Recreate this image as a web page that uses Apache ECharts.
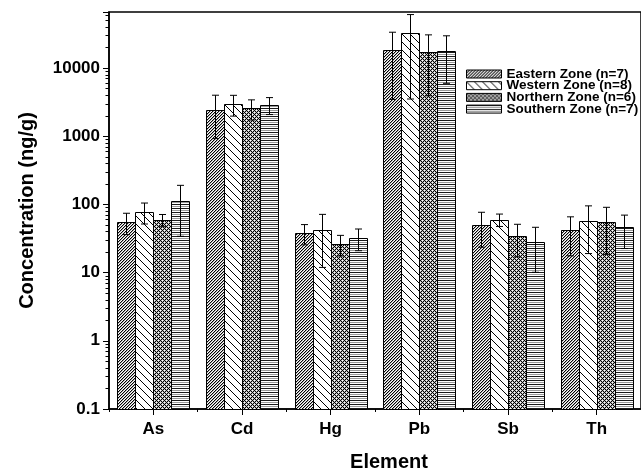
<!DOCTYPE html>
<html><head><meta charset="utf-8">
<script src="https://cdn.jsdelivr.net/npm/echarts@6/dist/echarts.min.js"></script>
<style>html,body{margin:0;padding:0;background:#fff;overflow:hidden}#c{width:641px;height:471px}</style>
</head><body><div id="c"></div>
<script>
var categories = ['As', 'Cd', 'Hg', 'Pb', 'Sb', 'Th'];
var zoneNames = ['Eastern Zone (n=7)', 'Western Zone (n=8)', 'Northern Zone (n=6)', 'Southern Zone (n=7)'];
var eastern  = [55, 2450, 38, 18400, 50, 41.6];
var eastErr  = [19, 1530, 12.5, 14950, 26.5, 24];
var western  = [78, 2965, 41.6, 32000, 59.7, 57];
var westErr  = [26.5, 1000, 29.7, 28500, 12.3, 38];
var northern = [59, 2560, 26.3, 17200, 34, 54.5];
var northErr = [12, 840, 8.8, 13300, 17, 36];
var southern = [112, 2870, 32.2, 17750, 28.1, 46];
var southErr = [78, 800, 11.3, 11800, 18, 23.5];
var yTickLabels = ['0.1', '1', '10', '100', '1000', '10000'];
var yMin = 0.1, yMax = 66000;

var FONT = '"Liberation Sans", Arial, Helvetica, sans-serif';

function mk(w, h, draw) {
  var c = document.createElement('canvas'); c.width = w; c.height = h;
  var g = c.getContext('2d'); g.fillStyle = '#fff'; g.fillRect(0, 0, w, h);
  draw(g); return c;
}
var patEast = mk(3, 3, function (g) {
  g.fillStyle = '#000';
  for (var x = 0; x < 3; x++) { var y = (2 - x + 3) % 3; g.fillRect(x, y, 1, 1); }
  g.fillStyle = '#aaa';
  for (var x2 = 0; x2 < 3; x2++) { var y2 = (3 - x2 + 3) % 3; g.fillRect(x2, y2, 1, 1); }
});
var patWest = mk(8, 8, function (g) {
  g.strokeStyle = '#000'; g.lineWidth = 1;
  g.beginPath(); g.moveTo(-1, -1); g.lineTo(9, 9); g.stroke();
  g.beginPath(); g.moveTo(7, -1); g.lineTo(9, 1); g.stroke();
  g.beginPath(); g.moveTo(-1, 7); g.lineTo(1, 9); g.stroke();
});
var patNorth = mk(4, 4, function (g) {
  for (var x = 0; x < 4; x++) for (var y = 0; y < 4; y++) {
    if ((x + y) % 4 === 0 || (x - y + 4) % 4 === 0) { g.fillStyle = '#000'; g.fillRect(x, y, 1, 1); }
    else if ((x + y) % 2 === 1) { g.fillStyle = '#bbb'; g.fillRect(x, y, 1, 1); }
  }
});
var patSouth = mk(4, 4, function (g) {
  g.fillStyle = '#1a1a1a'; g.fillRect(0, 0, 4, 1);
  g.fillStyle = '#999'; g.fillRect(0, 2, 4, 1);
});
var patterns = [patEast, patWest, patNorth, patSouth];
var means = [eastern, western, northern, southern];
var errs = [eastErr, westErr, northErr, southErr];

function isPow10(v) { var l = Math.log10(v); return Math.abs(l - Math.round(l)) < 1e-6; }

var minorVals = [];
[0.1, 1, 10, 100, 1000, 10000].forEach(function (d) {
  for (var k = 2; k <= 9; k++) { var v = d * k; if (v <= yMax) minorVals.push(v); }
});

function slotX(api, i, z) {
  var c = api.coord([i, yMin]);
  var bw = api.size([1, 0])[0] * 0.81 / 4;
  return { left: c[0] - 2 * bw + z * bw, bw: bw, base: c[1] };
}

var series = [];
zoneNames.forEach(function (nm, z) {
  var pat = { image: patterns[z], repeat: 'repeat' };
  series.push({
    name: nm, type: 'custom', xAxisIndex: 0, yAxisIndex: 0, z: 2,
    data: means[z].map(function (m, i) { return [i, m]; }),
    encode: { x: 0, y: 1 },
    itemStyle: { color: pat, borderColor: '#000', borderWidth: 1 },
    renderItem: function (params, api) {
      var i = api.value(0);
      var s = slotX(api, i, z);
      var top = api.coord([i, api.value(1)]);
      var x0 = Math.round(s.left) + 0.5;
      var x1 = Math.round(s.left + s.bw) + 0.5;
      return { type: 'rect',
        shape: { x: x0, y: Math.round(top[1]) + 0.5, width: x1 - x0, height: Math.round(s.base) - Math.round(top[1]) },
        style: { fill: pat, stroke: '#000', lineWidth: 1 } };
    }
  });
});
zoneNames.forEach(function (nm, z) {
  series.push({
    type: 'custom', xAxisIndex: 0, yAxisIndex: 0, z: 5, silent: true,
    data: means[z].map(function (m, i) { return [i, m - errs[z][i], m + errs[z][i]]; }),
    encode: { x: 0, y: [1, 2] },
    renderItem: function (params, api) {
      var i = api.value(0);
      var s = slotX(api, i, z);
      var lo = api.coord([i, api.value(1)]);
      var hi = api.coord([i, api.value(2)]);
      var x = Math.round(s.left + s.bw / 2) + 0.5;
      var c = 3.5;
      var st = { stroke: '#000', lineWidth: 1, fill: null };
      return { type: 'group', children: [
        { type: 'line', shape: { x1: x, y1: lo[1], x2: x, y2: hi[1] }, style: st },
        { type: 'line', shape: { x1: x - c, y1: lo[1], x2: x + c, y2: lo[1] }, style: st },
        { type: 'line', shape: { x1: x - c, y1: hi[1], x2: x + c, y2: hi[1] }, style: st }
      ]};
    }
  });
});
series.push({
  type: 'custom', xAxisIndex: 1, yAxisIndex: 0, z: 6, silent: true, clip: false,
  data: minorVals.map(function (v) { return [0, v]; }),
  renderItem: function (params, api) {
    var p = api.coord([0, api.value(1)]);
    var y = Math.round(p[1]) + 0.5;
    return { type: 'line', shape: { x1: p[0] - 3.5, y1: y, x2: p[0], y2: y },
      style: { stroke: '#000', lineWidth: 1 } };
  }
});

var chart = echarts.init(document.getElementById('c'), null, { renderer: 'canvas' });
chart.setOption({
  animation: false,
  backgroundColor: '#fff',
  textStyle: { fontFamily: FONT },
  grid: { left: 109, top: 12, right: 0, bottom: 62, show: true, borderColor: '#000', borderWidth: 1.5,
          containLabel: false, outerBoundsMode: 'none' },
  legend: {
    data: zoneNames, orient: 'vertical', left: 461, top: 62,
    icon: 'rect', itemWidth: 35, itemHeight: 8, itemGap: -2.3,
    selectedMode: false,
    textStyle: { fontFamily: FONT, fontWeight: 'bold', fontSize: 13.5, color: '#000' },
    itemStyle: { borderColor: '#000', borderWidth: 1 }
  },
  xAxis: [{
    type: 'category', data: categories,
    name: 'Element', nameLocation: 'middle', nameGap: 43,
    nameTextStyle: { fontFamily: FONT, fontWeight: 'bold', fontSize: 20, color: '#000', padding: [0, 0, 0, 28] },
    axisLine: { lineStyle: { color: '#000', width: 1.5 } },
    axisTick: { show: true, alignWithLabel: true, length: 6, lineStyle: { color: '#000', width: 1 } },
    axisLabel: { fontFamily: FONT, fontWeight: 'bold', fontSize: 17, color: '#000', margin: 12 },
    splitLine: { show: false }
  }, {
    type: 'value', min: 0, max: 1, show: false
  }, {
    type: 'category', data: categories, position: 'bottom',
    axisLine: { show: false },
    axisTick: { show: true, alignWithLabel: false, length: 3, lineStyle: { color: '#000', width: 1 } },
    axisLabel: { show: false },
    splitLine: { show: false }
  }],
  yAxis: [{
    type: 'log', logBase: 10, min: yMin, max: yMax,
    name: 'Concentration (ng/g)', nameLocation: 'middle', nameGap: 72,
    nameTextStyle: { fontFamily: FONT, fontWeight: 'bold', fontSize: 20, color: '#000' },
    axisLine: { show: true, lineStyle: { color: '#000', width: 1.5 } },
    axisTick: { show: true, length: 6, lineStyle: { color: '#000', width: 1 } },
    axisLabel: {
      fontFamily: FONT, fontWeight: 'bold', fontSize: 17, color: '#000', margin: 9,
      formatter: function (v) {
        if (!isPow10(v)) return '';
        var idx = Math.round(Math.log10(v)) + 1;
        return yTickLabels[idx] || '';
      }
    },
    splitLine: { show: false }
  }],
  series: series
});
</script></body></html>
